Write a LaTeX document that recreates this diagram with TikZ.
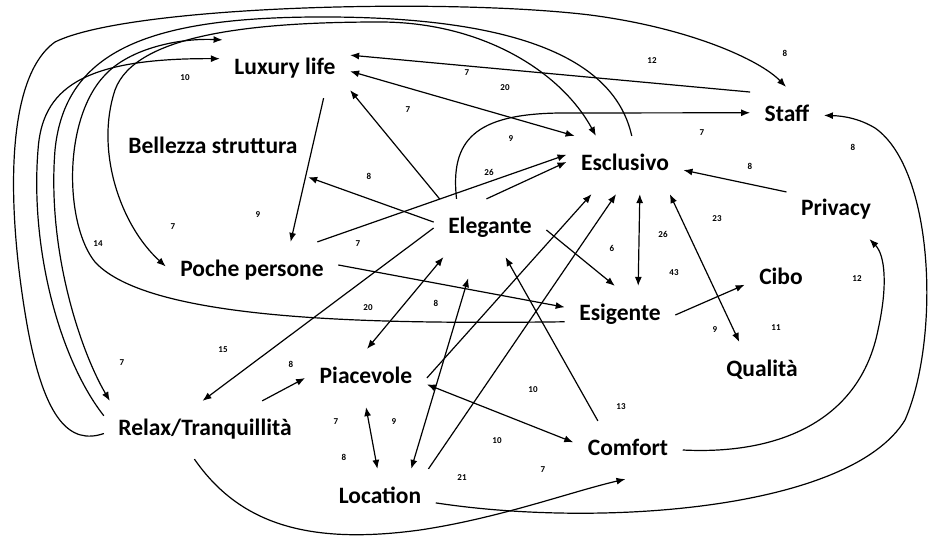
\documentclass[tikz,border=0pt]{standalone}
\usepackage{fontspec}
\setmainfont{Carlito}
\usetikzlibrary{arrows.meta}
\begin{document}
\begin{tikzpicture}[x=1pt,y=-1pt,>={Latex[length=9pt,width=7pt]},line width=1.2pt,
	concept/.style={font=\bfseries\fontsize{23.5}{27}\selectfont,text height=16pt,text depth=5pt,inner xsep=14pt,inner ysep=18pt},
	weight/.style={font=\bfseries\fontsize{9}{10}\selectfont,inner sep=0pt}]
		\useasboundingbox (0,0) rectangle (933,537);

		%% Concepts
		\node[concept] (lux) at (285,69) {Luxury life};
		\node[concept] (bel) at (213,148) {Bellezza struttura};
		\node[concept] (poche) at (252,271) {Poche persone};
		\node[concept] (eleg) at (490,228) {Elegante};
		\node[concept] (escl) at (625,165) {Esclusivo};
		\node[concept] (staff) at (787,116) {Staff};
		\node[concept] (priv) at (836,210) {Privacy};
		\node[concept] (esig) at (620,315) {Esigente};
		\node[concept] (cibo) at (781,279) {Cibo};
		\node[concept] (qual) at (762,371) {Qualità};
		\node[concept] (piac) at (366,378) {Piacevole};
		\node[concept] (relax) at (205,430) {Relax/Tranquillità};
		\node[concept] (comf) at (628,450) {Comfort};
		\node[concept] (loc) at (380,498) {Location};

		%% Straight links
		\draw[->] (staff.147) -- (lux.12);
		\draw[<->] (lux.-2) -- (escl.150);
		\draw[->] (eleg.150) -- (lux.-18);
		\draw[->] (eleg.174) -- (bel.-17);
		\draw[->] (lux.-37) -- (poche.37);
		\draw[->] (poche.24) -- (escl.170);
		\draw[->] (eleg.97) -- (escl.177);
		\draw[->] (poche.4) -- (esig.172);
		\draw[->] (eleg.180) -- (relax.95);
		\draw[<->] (eleg.212) -- (piac.88);
		\draw[<->, shorten >=22pt] (loc.43) -- (eleg.-118);
		\draw[->] (piac.0) -- (escl.221);
		\draw[->] (loc.31) -- (escl.253);
		\draw[<->] (escl.-63) -- (esig.58);
		\draw[->] (eleg.-2) -- (esig.100);
		\draw[->] (esig.0) -- (cibo.189);
		\draw[<->] (escl.-33) -- (qual.128);
		\draw[->] (priv.160) -- (escl.-5);
		\draw[->] (relax.27) -- (piac.180);
		\draw[<->] (piac.-90) -- (loc.95);
		\draw[<->] (piac.-6) -- (comf.172);
		\draw[->] (comf.136) -- (eleg.-62);

		%% Curved links round the outside
		\draw[->] (relax.182) .. controls (70,445) and (45,420) .. (28,330)
			.. controls (8,220) and (2,80) .. (55,42)
			.. controls (130,5) and (450,-2) .. (590,15)
			.. controls (690,28) and (760,60) .. (staff.92);
		\draw[->] (relax.172) .. controls (60,360) and (30,250) .. (38,150)
			.. controls (42,90) and (80,58) .. (lux.171);
		\draw[->] (escl.77) .. controls (615,60) and (520,18) .. (330,17)
			.. controls (150,16) and (65,50) .. (55,150)
			.. controls (47,250) and (80,350) .. (relax.163);
		\draw[->] (esig.187) .. controls (380,324) and (150,322) .. (95,262)
			.. controls (65,225) and (62,120) .. (105,75)
			.. controls (130,48) and (180,38) .. (lux.155);
		\draw[<->] (poche.177) .. controls (120,225) and (95,150) .. (115,90)
			.. controls (135,35) and (250,22) .. (380,22)
			.. controls (480,22) and (560,70) .. (escl.135);
		\draw[->] (eleg.139) .. controls (450,140) and (475,114) .. (560,113) -- (staff.175);
		\draw[->] (loc.-5) .. controls (600,528) and (850,510) .. (905,420)
			.. controls (940,340) and (935,170) .. (875,128)
			.. controls (860,119) and (845,116) .. (staff.1);
		\draw[->] (comf.0) .. controls (780,455) and (860,420) .. (878,330)
			.. controls (888,285) and (885,255) .. (priv.-41);
		\draw[->] (relax.-110) .. controls (240,525) and (310,545) .. (420,530)
			.. controls (500,518) and (570,492) .. (comf.-95);

		%% Weights
		\node[weight] (w1) at (185,78) {10};
		\node[weight] (w2) at (467,73) {7};
		\node[weight] (w3) at (505,88) {20};
		\node[weight] (w4) at (652,61) {12};
		\node[weight] (w5) at (785,53) {8};
		\node[weight] (w6) at (408,110) {7};
		\node[weight] (w7) at (511,139) {9};
		\node[weight] (w8) at (702,133) {7};
		\node[weight] (w9) at (853,147) {8};
		\node[weight] (w10) at (369,176) {8};
		\node[weight] (w11) at (489,172) {26};
		\node[weight] (w12) at (750,166) {8};
		\node[weight] (w13) at (717,219) {23};
		\node[weight] (w14) at (258,215) {9};
		\node[weight] (w15) at (173,227) {7};
		\node[weight] (w16) at (98,244) {14};
		\node[weight] (w17) at (358,244) {7};
		\node[weight] (w18) at (612,248) {6};
		\node[weight] (w19) at (663,234) {26};
		\node[weight] (w20) at (674,273) {43};
		\node[weight] (w21) at (857,279) {12};
		\node[weight] (w22) at (368,308) {20};
		\node[weight] (w23) at (436,303) {8};
		\node[weight] (w24) at (715,330) {9};
		\node[weight] (w25) at (776,328) {11};
		\node[weight] (w26) at (223,350) {15};
		\node[weight] (w27) at (122,363) {7};
		\node[weight] (w28) at (291,364) {8};
		\node[weight] (w29) at (336,422) {7};
		\node[weight] (w30) at (394,422) {9};
		\node[weight] (w31) at (533,390) {10};
		\node[weight] (w32) at (621,407) {13};
		\node[weight] (w33) at (344,457) {8};
		\node[weight] (w34) at (497,441) {10};
		\node[weight] (w35) at (543,470) {7};
		\node[weight] (w36) at (462,478) {21};
	\end{tikzpicture}
\end{document}
